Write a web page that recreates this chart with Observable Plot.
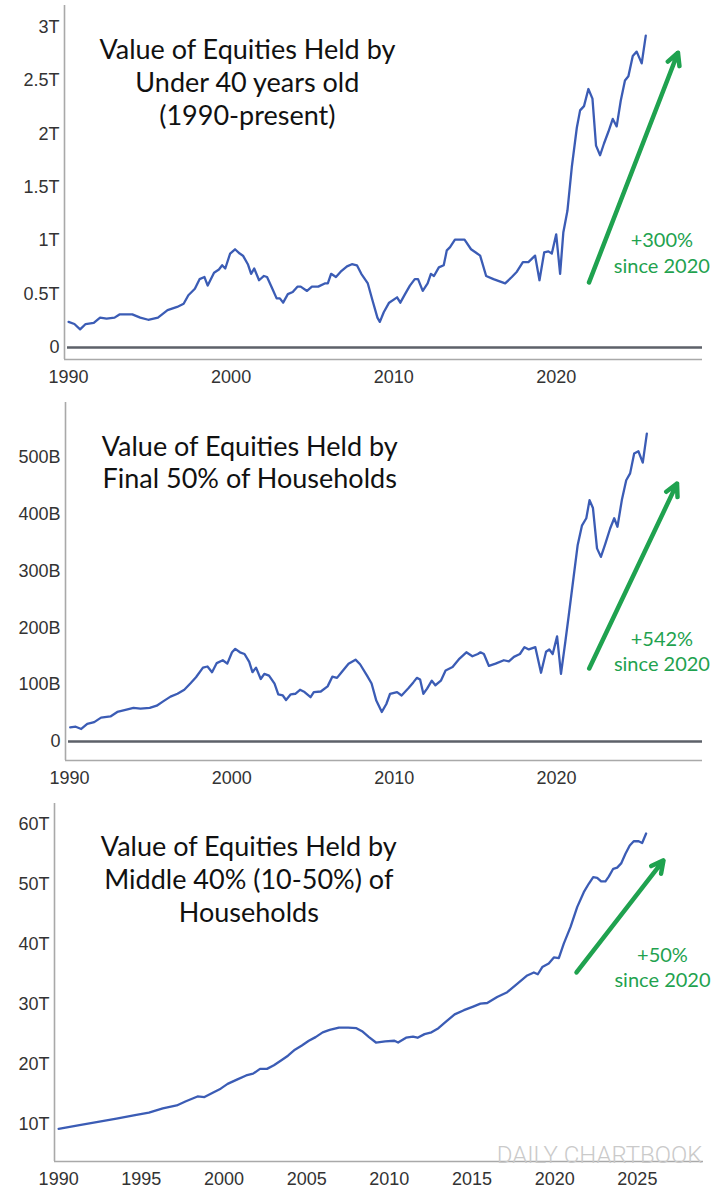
<!DOCTYPE html>
<html><head><meta charset="utf-8">
<script src="https://cdn.jsdelivr.net/npm/d3@7"></script>
<script src="https://cdn.jsdelivr.net/npm/@observablehq/plot@0.6"></script>
<style>
html,body{margin:0;padding:0;background:#fff;}
#c{width:727px;}
#c svg{display:block;}
</style></head>
<body><div id="c"></div>
<script>
// ---------- data ----------
const under40Years = [1990.0,1990.36,1990.71,1991.05,1991.55,1991.94,1992.34,1992.83,1993.13,1993.92,1994.41,1994.9,1995.5,1996.09,1996.68,1997.08,1997.37,1997.77,1998.06,1998.36,1998.56,1998.95,1999.25,1999.45,1999.64,1999.94,2000.24,2000.53,2000.73,2001.03,2001.23,2001.42,2001.72,2002.02,2002.21,2002.51,2002.8,2003.0,2003.2,2003.49,2003.79,2004.08,2004.28,2004.67,2004.97,2005.36,2005.76,2005.95,2006.15,2006.45,2006.74,2007.13,2007.43,2007.74,2008.01,2008.41,2008.7,2009.0,2009.15,2009.39,2009.72,2010.21,2010.41,2010.7,2011.0,2011.3,2011.5,2011.79,2012.09,2012.29,2012.48,2012.78,2013.08,2013.27,2013.47,2013.77,2014.36,2014.76,2015.05,2015.32,2015.69,2016.14,2016.86,2017.27,2017.58,2017.95,2018.29,2018.7,2018.97,2019.26,2019.52,2019.73,2020.0,2020.24,2020.44,2020.69,2020.96,2021.27,2021.47,2021.71,2021.98,2022.23,2022.45,2022.7,2022.94,2023.21,2023.48,2023.72,2023.97,2024.23,2024.44,2024.71,2024.95,2025.26,2025.51];
const under40Values = [0.24,0.22,0.17,0.22,0.23,0.28,0.27,0.28,0.31,0.31,0.28,0.26,0.28,0.35,0.38,0.41,0.49,0.55,0.64,0.66,0.58,0.70,0.73,0.77,0.74,0.88,0.92,0.88,0.86,0.78,0.69,0.74,0.63,0.67,0.66,0.56,0.46,0.46,0.42,0.50,0.52,0.57,0.57,0.53,0.57,0.57,0.60,0.60,0.69,0.66,0.71,0.76,0.78,0.77,0.69,0.60,0.44,0.28,0.24,0.33,0.42,0.47,0.42,0.50,0.58,0.64,0.64,0.53,0.60,0.69,0.67,0.75,0.77,0.91,0.94,1.01,1.01,0.92,0.89,0.86,0.67,0.64,0.60,0.66,0.71,0.80,0.80,0.86,0.63,0.89,0.90,0.88,1.06,0.69,1.08,1.28,1.69,2.06,2.22,2.26,2.42,2.33,1.89,1.80,1.91,2.02,2.14,2.07,2.31,2.50,2.54,2.73,2.77,2.66,2.92];

const bottom50Years = [1990.04,1990.38,1990.72,1991.09,1991.52,1991.94,1992.52,1992.94,1993.51,1993.94,1994.37,1994.94,1995.37,1995.79,1996.22,1996.65,1997.07,1997.44,1997.79,1998.22,1998.5,1998.78,1999.07,1999.44,1999.72,2000.01,2000.21,2000.5,2000.78,2001.07,2001.27,2001.49,2001.78,2002.0,2002.29,2002.63,2002.86,2003.14,2003.34,2003.63,2003.91,2004.2,2004.48,2004.85,2005.05,2005.48,2005.9,2006.19,2006.48,2006.76,2007.19,2007.62,2007.9,2008.33,2008.61,2008.9,2009.24,2009.52,2009.75,2010.18,2010.46,2010.89,2011.18,2011.4,2011.6,2011.8,2012.03,2012.32,2012.54,2012.88,2013.17,2013.6,2014.03,2014.45,2014.82,2015.16,2015.32,2015.53,2015.84,2016.25,2016.76,2017.07,2017.38,2017.75,2018.03,2018.3,2018.7,2019.05,2019.36,2019.56,2019.77,2020.04,2020.28,2020.55,2020.75,2021.06,2021.31,2021.57,2021.84,2022.04,2022.25,2022.5,2022.74,2023.01,2023.31,2023.56,2023.76,2024.03,2024.3,2024.54,2024.79,2025.05,2025.32,2025.57];
const bottom50Values = [25,26,22,31,34,42,44,52,56,59,58,59,63,71,79,84,91,102,113,130,132,122,138,143,137,157,163,157,154,140,122,130,110,119,116,102,83,81,73,83,84,91,87,78,87,88,97,114,112,122,137,144,136,116,102,72,52,66,84,87,81,94,104,112,109,84,93,107,99,107,125,131,146,157,150,154,157,154,133,137,143,141,149,154,166,162,166,121,158,162,154,185,119,176,220,290,346,380,393,425,411,340,325,348,375,393,378,425,460,472,507,511,491,542];

const middle40Years = [1990.0,1991.26,1992.38,1993.5,1994.62,1995.46,1996.3,1997.14,1997.7,1998.4,1998.82,1999.38,1999.8,2000.22,2000.78,2001.34,2001.76,2002.18,2002.6,2003.02,2003.45,2003.87,2004.29,2004.71,2005.13,2005.54,2005.97,2006.39,2006.95,2007.51,2008.01,2008.35,2008.77,2009.19,2009.75,2010.31,2010.53,2011.01,2011.43,2011.71,2012.13,2012.55,2012.97,2013.39,2013.95,2014.51,2015.07,2015.51,2015.92,2016.52,2017.13,2017.73,2018.34,2018.74,2018.98,2019.25,2019.64,2019.95,2020.25,2020.55,2020.96,2021.36,2021.76,2022.06,2022.33,2022.57,2022.81,2023.07,2023.27,2023.54,2023.78,2024.02,2024.28,2024.54,2024.78,2025.08,2025.29,2025.53];
const middle40Values = [9.2,9.8,10.35,10.9,11.5,11.9,12.6,13.1,13.8,14.6,14.5,15.3,15.9,16.7,17.4,18.1,18.4,19.2,19.2,19.8,20.6,21.4,22.4,23.1,23.9,24.5,25.3,25.7,26.1,26.1,26.0,25.5,24.5,23.6,23.8,23.9,23.6,24.4,24.6,24.4,25.0,25.3,26.0,27.0,28.3,29.0,29.6,30.1,30.2,31.2,32.0,33.4,34.8,35.3,35.0,36.2,36.8,37.8,37.7,40.1,42.9,46.2,48.7,50.1,51.2,51.1,50.5,50.5,51.3,52.6,52.8,53.5,55.1,56.5,57.2,57.2,56.9,58.5];

// tick values and labels
const decadeTicks = [1990, 2000, 2010, 2020];
const fiveYearTicks = [1990, 1995, 2000, 2005, 2010, 2015, 2020, 2025];
const under40Ticks = [0, 0.5, 1, 1.5, 2, 2.5, 3];
const under40TickLabels = ["0", "0.5T", "1T", "1.5T", "2T", "2.5T", "3T"];
const bottom50Ticks = [0, 100, 200, 300, 400, 500];
const bottom50TickLabels = ["0", "100B", "200B", "300B", "400B", "500B"];
const middle40Ticks = [10, 20, 30, 40, 50, 60];
const middle40TickLabels = ["10T", "20T", "30T", "40T", "50T", "60T"];

// texts
const panelTitles = [
  "Value of Equities Held by\nUnder 40 years old\n(1990-present)",
  "Value of Equities Held by\nFinal 50% of Households",
  "Value of Equities Held by\nMiddle 40% (10-50%) of\nHouseholds"
];
const panelNotes = ["+300%\nsince 2020", "+542%\nsince 2020", "+50%\nsince 2020"];
const watermark = "DAILY CHARTBOOK";

// annotation anchors, in data units [year, value]
const titleAnchors = [[2001.0, 2.49], [2001.1, 493], [2001.5, 51.0]];
const arrowTails = [[2022.02, 0.61], [2022.02, 128.5], [2021.32, 35.3]];
const arrowTips = [[2027.49, 2.76], [2027.43, 454], [2026.58, 54.0]];
const noteAnchors = [[2026.5, 0.894], [2026.5, 160], [2026.52, 36.3]];

// ---------- drawing ----------
const xDomain = [1989.75, 2029];
const BLUE = "#3b5cb5", GREEN = "#1fa24f", AXIS = "#a9a9a9";
const TICKFONT = "'Liberation Sans', Arial, Helvetica, sans-serif";

function panel(o) {
  const data = o.years.map((x, i) => ({x, y: o.values[i]}));
  const marks = [
    Plot.ruleY([o.yDomain[0]], {stroke: AXIS, strokeWidth: 1.6}),
    Plot.ruleX([xDomain[0]], {stroke: AXIS, strokeWidth: 1.6})
  ];
  if (o.zero) marks.push(Plot.ruleY([0], {stroke: "#5d6169", strokeWidth: 2.6, insetLeft: 3}));
  marks.push(
    Plot.line(data, {x: "x", y: "y", stroke: BLUE, strokeWidth: 2.3, strokeLinejoin: "round"}),
    Plot.axisX({ticks: o.xTicks, tickSize: 0, tickPadding: o.xPad, tickFormat: d => String(d), label: null, fill: "#333", fontSize: 18, fontFamily: TICKFONT}),
    Plot.axisY({ticks: o.yTicks, tickSize: 0, tickPadding: 5, tickFormat: d => o.yLabels[o.yTicks.indexOf(d)], label: null, fill: "#333", fontSize: 18, fontFamily: TICKFONT}),
    Plot.text([{x: o.titleAt[0], y: o.titleAt[1], t: o.title}], {x: "x", y: "y", text: "t", fontFamily: "Lato", fontSize: 27, lineHeight: 1.22, fill: "#111", textAnchor: "middle"}),
    Plot.arrow([{x1: o.tail[0], y1: o.tail[1], x2: o.tip[0], y2: o.tip[1]}], {x1: "x1", y1: "y1", x2: "x2", y2: "y2", stroke: GREEN, strokeWidth: 4.5, headLength: 4.5, headAngle: 55, strokeLinejoin: "miter"}),
    Plot.text([{x: o.noteAt[0], y: o.noteAt[1], t: o.note}], {x: "x", y: "y", text: "t", fontFamily: "Lato", fontSize: 20, lineHeight: 1.27, fill: GREEN, textAnchor: "middle"})
  );
  if (o.watermark) marks.push(Plot.text([o.watermark], {text: d => d, frameAnchor: "bottom-right", textAnchor: "end", lineAnchor: "bottom", dx: -1, dy: 1, fontFamily: "Roboto", fontWeight: 300, fontSize: 24, fill: "#cacaca"}));
  return Plot.plot({
    width: 727, height: o.height,
    marginTop: o.mt, marginBottom: o.mb, marginLeft: o.ml, marginRight: o.mr,
    x: {domain: xDomain},
    y: {domain: o.yDomain},
    style: {fontFamily: TICKFONT, fontSize: "18px", color: "#333", background: "#fff", overflow: "visible"},
    marks
  });
}

const c = document.getElementById("c");
c.append(panel({
  years: under40Years, values: under40Values, height: 395, mt: 5, mb: 36, ml: 64, mr: 25,
  yDomain: [-0.112, 3.202], yTicks: under40Ticks, yLabels: under40TickLabels, xTicks: decadeTicks, xPad: 11, zero: true,
  title: panelTitles[0], titleAt: titleAnchors[0], tail: arrowTails[0], tip: arrowTips[0], note: panelNotes[0], noteAt: noteAnchors[0]
}));
c.append(panel({
  years: bottom50Years, values: bottom50Values, height: 400, mt: 7, mb: 35, ml: 65, mr: 25,
  yDomain: [-33.5, 596.8], yTicks: bottom50Ticks, yLabels: bottom50TickLabels, xTicks: decadeTicks, xPad: 10.5, zero: true,
  title: panelTitles[1], titleAt: titleAnchors[1], tail: arrowTails[1], tip: arrowTips[1], note: panelNotes[1], noteAt: noteAnchors[1]
}));
c.append(panel({
  years: middle40Years, values: middle40Values, height: 405, mt: 8, mb: 39, ml: 54, mr: 24,
  yDomain: [3.74, 63.5], yTicks: middle40Ticks, yLabels: middle40TickLabels, xTicks: fiveYearTicks, xPad: 10.5, zero: false,
  title: panelTitles[2], titleAt: titleAnchors[2], tail: arrowTails[2], tip: arrowTips[2], note: panelNotes[2], noteAt: noteAnchors[2],
  watermark
}));
</script>
</body></html>
